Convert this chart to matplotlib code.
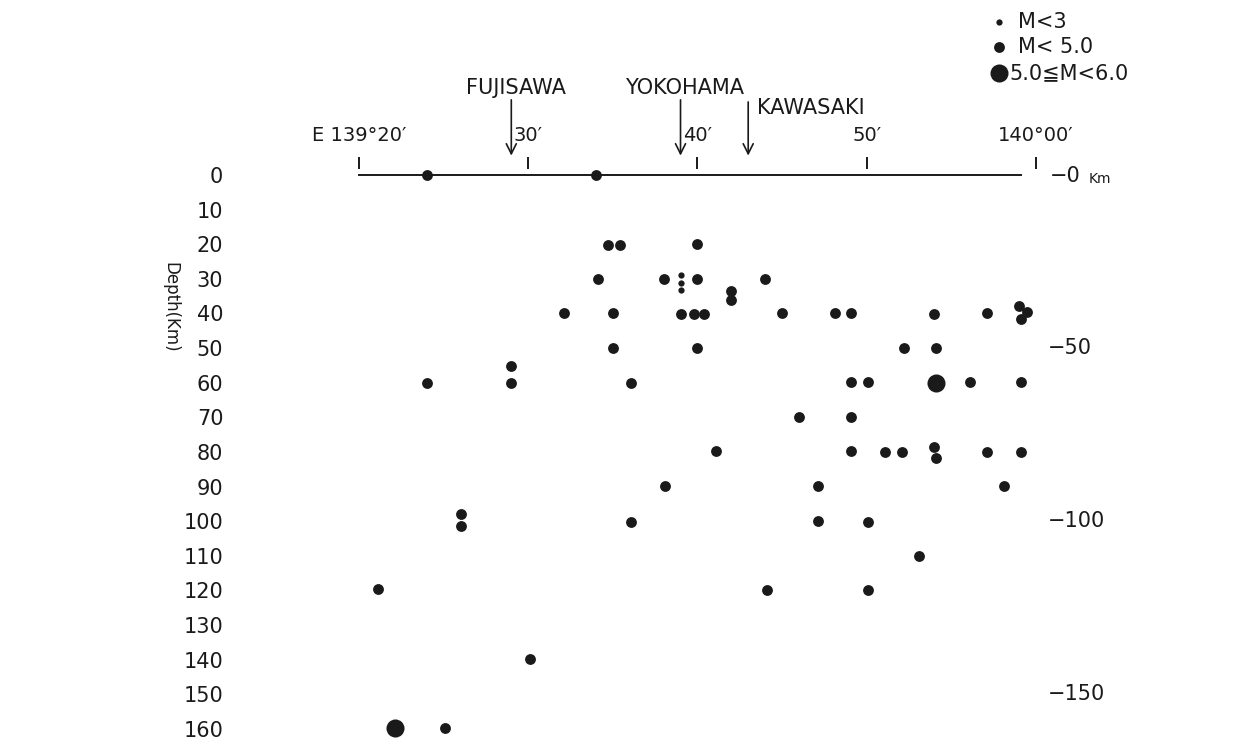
import numpy as np
import matplotlib.pyplot as plt

plt.rcParams['font.family'] = ['DejaVu Sans']

# Hypocentres: longitude in minutes east of 139°00', depth in km
# magnitude class: 0 -> M<3, 1 -> M<5.0, 2 -> 5.0<=M<6.0
lon = [24.0, 34.0,
       34.7, 35.4, 40.0,
       34.1, 38.0, 39.0, 39.0, 39.0, 40.0, 44.0, 42.0, 42.0,
       32.1, 35.0, 39.0, 39.8, 40.4, 45.0, 48.1, 49.1, 54.0, 57.1, 59.0, 59.5, 59.1,
       35.0, 40.0, 52.2, 54.1, 29.0,
       24.0, 29.0, 36.1, 49.1, 50.1, 54.1, 56.1, 59.1,
       46.0, 49.1,
       41.1, 49.1, 51.1, 52.1, 54.0, 54.1, 57.1, 59.1,
       38.1, 47.1, 58.1,
       26.0, 26.0, 36.1, 47.1, 50.1,
       53.1, 21.1, 44.1, 50.1,
       30.1, 22.1, 25.1]
depth = [0, 0,
         20.2, 20.2, 19.9,
         30.0, 30.0, 28.9, 31.2, 33.2, 30.0, 30.0, 33.5, 36.1,
         39.9, 39.9, 40.1, 40.1, 40.1, 39.9, 39.9, 39.9, 40.1, 39.9, 37.8, 39.6, 41.6,
         50.0, 50.0, 50.0, 50.0, 55.2,
         60.1, 60.1, 60.1, 59.8, 59.8, 60.1, 59.8, 59.8,
         69.9, 69.9,
         79.7, 79.7, 80.0, 80.0, 78.6, 81.7, 80.0, 80.0,
         89.8, 89.8, 89.8,
         97.9, 101.4, 100.2, 99.9, 100.2,
         110.0, 119.6, 119.9, 119.9,
         139.8, 159.7, 159.7]
mag = [1, 1,
       1, 1, 1,
       1, 1, 0, 0, 0, 1, 1, 1, 1,
       1, 1, 1, 1, 1, 1, 1, 1, 1, 1, 1, 1, 1,
       1, 1, 1, 1, 1,
       1, 1, 1, 1, 1, 2, 1, 1,
       1, 1,
       1, 1, 1, 1, 1, 1, 1, 1,
       1, 1, 1,
       1, 1, 1, 1, 1,
       1, 1, 1, 1,
       1, 2, 1]

depth_ticks = list(range(0, 161, 10))
right_ticks = [50, 100, 150]
lon_ticks = [20, 30, 40, 50, 60]
lon_labels = ['E 139°20′', '30′', '40′', '50′', '140°00′']
cities = ['FUJISAWA', 'YOKOHAMA', 'KAWASAKI']
city_lon = [29.0, 39.0, 43.0]
leg_labels = ['M<3', 'M< 5.0', '5.0≦M<6.0']

ink = '#1a1a1a'
msizes = [4.5, 7.8, 13.0]

lon = np.array(lon)
depth = np.array(depth)
mag = np.array(mag)

fig = plt.figure(figsize=(12.33, 7.54), dpi=100)
ax = fig.add_axes([240 / 1233, 0, 993 / 1233, 1])
ax.set_xlim(12.967, 71.65)
ax.set_ylim(167.22, -50.54)

for k, ms in enumerate(msizes):
    m = mag == k
    ax.plot(lon[m], depth[m], 'o', ms=ms, color=ink, mec='none', zorder=3, clip_on=False)

# surface line with longitude ticks
ax.plot([20, 59.1], [0, 0], color=ink, lw=1.4, zorder=2)
ax.vlines(lon_ticks, -5.3, -1.8, color=ink, lw=1.4)
for t, lab in zip(lon_ticks, lon_labels):
    ax.text(t, -11.5, lab, ha='center', va='center', fontsize=14, color=ink)

# city arrows
for name, x in zip(cities, city_lon):
    top = -21.1 if name == 'KAWASAKI' else -21.7
    ax.annotate('', xy=(x, -5.6), xytext=(x, top),
                arrowprops=dict(arrowstyle='->', lw=1.2, color=ink,
                                mutation_scale=18, shrinkA=0, shrinkB=0))
    if name == 'KAWASAKI':
        ax.text(x + 0.5, -19.4, name, ha='left', va='center', fontsize=15, color=ink)
    else:
        ax.text(x + 0.25, -25.1, name, ha='center', va='center', fontsize=15, color=ink)

# depth axis on the left
ax.set_xticks([])
ax.set_yticks(depth_ticks)
ax.tick_params(axis='y', length=0, pad=12, labelsize=15, labelcolor=ink)
for s in ax.spines.values():
    s.set_visible(False)
ax.text(-0.0705, 0.593, 'Depth(Km)', rotation=-90, ha='center', va='center',
        fontsize=12, color=ink, transform=ax.transAxes)

# depth marks on the right
ax.text(60.84, 0.3, '−0', ha='left', va='center', fontsize=15, color=ink)
ax.text(63.1, 1.2, 'Km', ha='left', va='center', fontsize=10, color=ink)
for d in right_ticks:
    ax.text(60.72, d, f'−{d}', ha='left', va='center', fontsize=15, color=ink)

# magnitude key
leg_y = [0.9708, 0.9377, 0.9032]
leg_tx = [0.7835, 0.7835, 0.7750]
for lab, ms, y, tx in zip(leg_labels, msizes, leg_y, leg_tx):
    ax.plot([0.7644], [y], 'o', ms=ms, color=ink, mec='none',
            transform=ax.transAxes, clip_on=False)
    ax.text(tx, y, lab, ha='left', va='center', fontsize=15, color=ink,
            transform=ax.transAxes)

fig.savefig('out.png', dpi=100)
